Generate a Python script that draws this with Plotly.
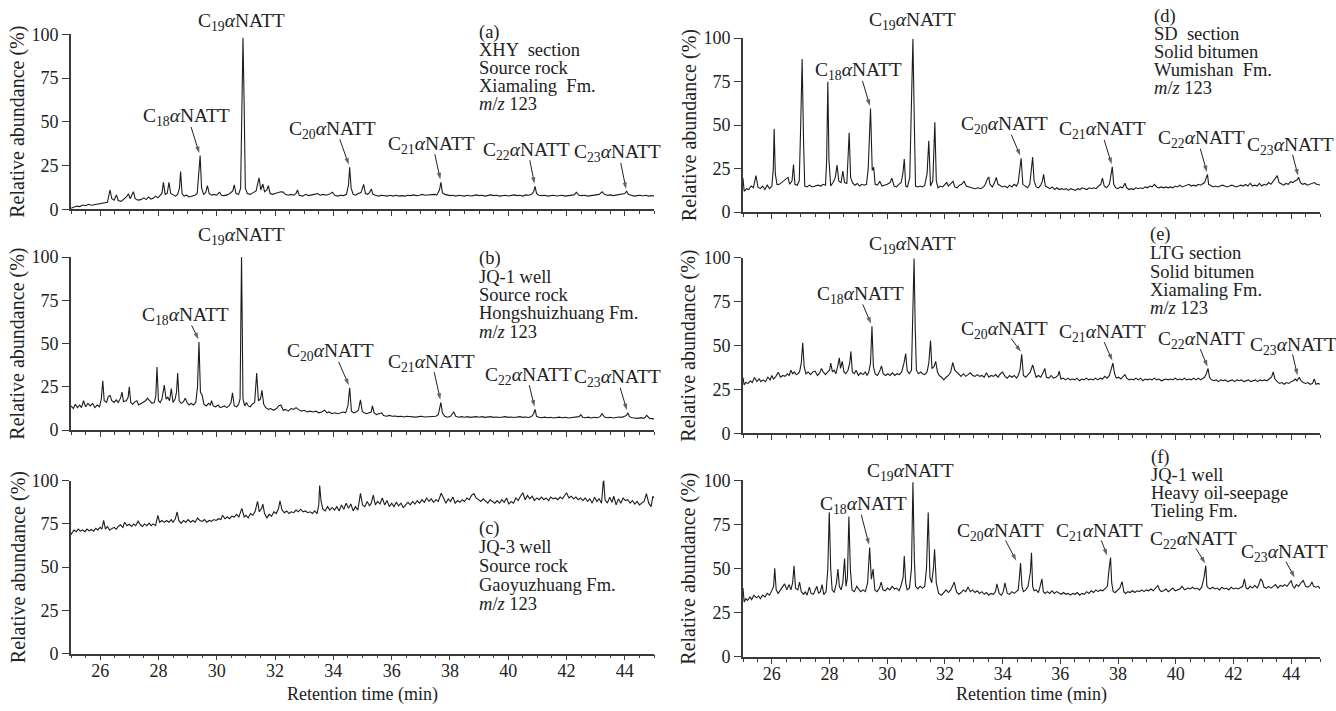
import plotly.graph_objects as go

# ---------------- data (retention time in min, relative abundance in %) ----------------
t_a = [25.00,25.10,25.20,25.30,25.40,25.50,25.60,25.70,25.80,25.95,26.10,26.25,26.30,26.34,26.40,26.48,26.56,26.62,26.72,26.80,
       26.90,26.97,27.03,27.14,27.20,27.30,27.40,27.50,27.58,27.66,27.74,27.82,27.90,27.98,28.05,28.12,28.17,28.23,28.30,28.36,
       28.42,28.50,28.58,28.66,28.72,28.76,28.81,28.88,28.96,29.05,29.15,29.25,29.33,29.38,29.43,29.48,29.55,29.62,29.68,29.74,
       29.82,29.90,30.00,30.05,30.10,30.16,30.25,30.35,30.45,30.55,30.60,30.66,30.75,30.82,30.86,30.90,30.94,30.98,31.05,31.15,
       31.25,31.35,31.45,31.51,31.58,31.64,31.72,31.77,31.83,31.92,32.00,32.10,32.20,32.28,32.35,32.45,32.55,32.65,32.72,32.77,
       32.83,32.95,33.05,33.15,33.25,33.35,33.46,33.55,33.65,33.75,33.85,33.97,34.05,34.15,34.25,34.35,34.45,34.52,34.56,34.61,
       34.68,34.76,34.85,34.95,35.04,35.10,35.18,35.24,35.30,35.36,35.45,35.55,35.65,35.75,35.85,35.95,36.05,36.15,36.25,36.35,
       36.45,36.55,36.65,36.75,36.85,36.95,37.05,37.15,37.25,37.35,37.45,37.55,37.64,37.69,37.74,37.82,37.90,38.00,38.10,38.20,
       38.30,38.40,38.50,38.60,38.70,38.80,38.90,39.00,39.10,39.20,39.30,39.40,39.50,39.60,39.70,39.80,39.90,40.00,40.10,40.20,
       40.30,40.40,40.50,40.60,40.70,40.80,40.87,40.92,40.97,41.05,41.15,41.25,41.35,41.45,41.55,41.65,41.75,41.85,41.95,42.05,
       42.15,42.25,42.34,42.42,42.52,42.62,42.72,42.82,42.92,43.02,43.12,43.22,43.30,43.40,43.50,43.60,43.70,43.80,43.90,44.00,
       44.06,44.12,44.22,44.32,44.42,44.52,44.62,44.72,44.82,44.92,45.00]
y_a = [0.5,1.0,1.8,1.5,2.4,2.0,2.8,2.3,2.6,3.0,3.2,4.0,8.0,11.0,6.0,5.2,8.2,5.0,4.5,5.5,
       7.0,8.8,6.0,10.0,6.0,5.2,5.5,6.5,5.5,7.0,5.8,6.2,7.5,6.5,8.0,9.0,15.4,8.5,9.0,15.4,
       9.0,8.0,7.5,8.5,12.0,21.5,9.0,7.5,8.0,7.0,7.5,8.0,9.0,18.0,30.7,12.0,8.5,9.5,13.5,9.0,
       8.0,8.5,8.0,9.0,9.7,8.0,7.8,8.2,9.0,10.5,13.9,9.0,8.5,12.0,60.0,98.0,60.0,12.0,9.0,8.5,
       9.5,10.5,18.0,11.0,14.4,10.0,11.0,13.5,9.0,8.5,9.0,9.5,10.0,9.8,8.5,8.0,8.5,8.0,9.0,11.0,
       8.0,7.5,8.5,7.8,8.0,8.5,9.0,8.0,8.5,8.0,8.5,9.7,8.0,7.5,8.0,7.8,8.5,14.0,24.0,12.0,
       8.5,8.0,9.0,9.5,14.2,9.0,8.5,9.5,11.6,8.5,8.0,7.5,8.0,7.8,7.5,8.0,7.5,8.0,7.5,7.8,
       7.5,8.0,7.8,8.2,7.8,8.0,8.5,8.0,8.2,8.0,8.5,8.2,11.0,15.4,9.5,8.5,8.0,7.8,8.0,7.5,
       8.0,7.8,7.5,8.0,7.6,7.8,8.2,7.8,8.0,7.5,7.8,8.2,7.8,8.0,7.5,7.8,8.0,7.6,7.8,8.2,
       7.8,8.0,7.5,8.2,8.0,8.5,10.0,13.0,9.0,8.0,7.8,8.0,7.5,7.8,8.0,7.6,7.8,8.0,7.5,7.8,
       8.0,8.2,9.7,8.0,7.8,8.0,7.5,7.8,8.0,8.2,8.5,10.0,8.5,8.0,8.2,7.8,8.0,8.5,8.8,9.0,
       10.3,8.5,8.0,7.5,7.8,8.0,7.6,8.0,7.5,7.8,7.5]

t_b = [25.00,25.08,25.15,25.22,25.30,25.36,25.43,25.50,25.58,25.66,25.74,25.82,25.90,25.98,26.04,26.09,26.14,26.22,26.28,26.34,
       26.40,26.48,26.55,26.62,26.70,26.75,26.80,26.90,26.96,27.00,27.05,27.12,27.20,27.26,27.32,27.40,27.48,27.56,27.62,27.70,
       27.78,27.86,27.91,27.95,28.00,28.06,28.12,28.20,28.26,28.32,28.38,28.44,28.50,28.57,28.62,28.66,28.71,28.78,28.86,28.92,
       28.98,29.05,29.12,29.20,29.28,29.34,29.39,29.44,29.50,29.56,29.64,29.72,29.78,29.82,29.88,29.96,30.05,30.12,30.20,30.27,
       30.34,30.42,30.49,30.54,30.60,30.68,30.75,30.80,30.85,30.90,30.96,31.02,31.08,31.15,31.22,31.30,31.37,31.43,31.50,31.55,
       31.61,31.68,31.77,31.85,31.95,32.05,32.12,32.20,32.28,32.36,32.45,32.55,32.64,32.72,32.80,32.90,33.00,33.10,33.20,33.30,
       33.40,33.50,33.60,33.70,33.78,33.86,33.95,34.05,34.15,34.25,34.34,34.42,34.50,34.56,34.62,34.70,34.78,34.86,34.93,34.99,
       35.06,35.14,35.22,35.30,35.34,35.40,35.48,35.56,35.66,35.72,35.82,35.92,36.02,36.12,36.22,36.32,36.42,36.52,36.62,36.72,
       36.82,36.92,37.02,37.12,37.22,37.32,37.42,37.52,37.60,37.64,37.69,37.74,37.82,37.92,38.02,38.13,38.20,38.30,38.40,38.50,
       38.60,38.70,38.80,38.90,39.00,39.10,39.20,39.30,39.40,39.50,39.60,39.70,39.80,39.90,40.00,40.10,40.20,40.30,40.40,40.50,
       40.60,40.70,40.80,40.87,40.92,40.97,41.05,41.15,41.25,41.35,41.45,41.55,41.65,41.75,41.85,41.95,42.05,42.15,42.25,42.35,
       42.43,42.49,42.55,42.65,42.75,42.85,42.95,43.05,43.15,43.22,43.30,43.40,43.50,43.60,43.70,43.80,43.90,44.00,44.06,44.10,
       44.16,44.25,44.35,44.45,44.55,44.65,44.70,44.75,44.85,44.95,45.00]
y_b = [14.0,12.5,15.0,13.0,14.5,13.0,17.0,13.5,15.5,14.0,15.5,13.0,14.5,13.5,18.0,28.5,17.0,16.0,19.5,20.0,
       17.0,16.0,17.5,16.0,18.5,22.0,16.5,17.0,19.0,25.0,16.0,15.0,16.5,17.0,14.5,15.5,16.0,17.0,18.5,17.0,
       15.5,16.0,20.0,36.5,17.0,16.0,18.0,26.0,18.0,19.0,17.0,24.0,16.0,18.0,22.0,33.0,17.0,15.5,16.5,18.5,
       16.0,14.5,15.5,14.5,16.0,25.0,51.0,22.0,20.0,15.0,14.0,15.5,14.5,17.0,14.0,13.5,14.5,13.0,13.5,14.0,
       13.0,14.0,16.0,21.5,14.0,13.5,15.0,18.0,101.0,18.0,14.0,16.0,14.0,13.5,15.0,16.0,33.0,17.0,18.0,23.0,
       15.0,13.0,12.0,12.5,11.5,12.5,14.0,14.5,11.5,12.0,11.0,12.5,12.0,13.0,12.0,11.0,11.5,10.5,11.0,10.5,
       11.0,10.0,10.5,11.5,10.0,10.5,9.5,10.0,9.5,10.0,10.5,10.0,14.0,24.5,11.0,10.0,10.5,11.5,17.5,11.0,
       10.0,9.5,10.0,10.5,14.0,10.0,9.0,9.5,10.0,8.5,8.0,8.5,8.0,8.2,7.8,8.0,7.6,8.0,7.8,8.0,
       7.5,7.8,8.0,7.6,7.8,8.0,7.8,8.0,9.0,12.0,16.0,10.0,8.0,7.5,8.0,10.5,8.0,7.5,7.8,7.5,
       7.8,7.4,7.6,7.8,7.5,7.8,7.4,7.6,7.8,7.4,7.6,7.3,7.6,7.8,7.4,7.6,7.3,7.6,7.8,7.4,
       7.6,7.3,7.8,9.5,12.0,8.0,7.4,7.2,7.5,7.2,7.4,7.0,7.3,7.5,7.2,7.4,7.0,7.3,7.2,7.5,
       7.8,9.0,7.5,7.2,7.5,7.0,7.4,7.2,7.8,9.5,7.6,7.2,7.4,7.0,7.3,7.6,7.4,8.0,8.5,10.0,
       7.8,7.2,7.0,6.8,7.2,6.8,7.5,8.5,6.8,6.5,6.5]

t_c = [25.00,25.05,25.10,25.18,25.25,25.32,25.40,25.48,25.55,25.62,25.70,25.78,25.85,25.92,26.00,26.06,26.12,26.18,26.25,26.32,
       26.40,26.48,26.55,26.62,26.70,26.78,26.84,26.92,27.00,27.08,27.15,27.22,27.30,27.38,27.45,27.52,27.60,27.68,27.75,27.82,
       27.90,27.98,28.04,28.12,28.20,28.28,28.36,28.44,28.50,28.58,28.64,28.70,28.78,28.86,28.94,29.02,29.10,29.18,29.26,29.34,
       29.42,29.50,29.58,29.66,29.74,29.82,29.90,29.98,30.06,30.14,30.20,30.28,30.36,30.44,30.52,30.60,30.68,30.76,30.86,30.94,
       31.00,31.08,31.16,31.24,31.32,31.40,31.46,31.54,31.58,31.64,31.72,31.80,31.88,31.96,32.04,32.12,32.17,32.24,32.32,32.40,
       32.48,32.56,32.64,32.72,32.80,32.88,32.96,33.04,33.12,33.20,33.28,33.36,33.44,33.50,33.53,33.58,33.64,33.72,33.80,33.88,
       33.96,34.04,34.12,34.20,34.28,34.36,34.44,34.52,34.60,34.68,34.76,34.84,34.93,35.00,35.08,35.16,35.24,35.30,35.37,35.44,
       35.52,35.60,35.68,35.76,35.84,35.92,36.00,36.08,36.16,36.24,36.32,36.40,36.48,36.56,36.64,36.72,36.80,36.88,36.96,37.04,
       37.12,37.20,37.28,37.36,37.44,37.52,37.60,37.70,37.78,37.86,37.94,38.02,38.10,38.18,38.26,38.34,38.42,38.50,38.58,38.66,
       38.74,38.82,38.90,38.98,39.06,39.14,39.22,39.30,39.38,39.46,39.54,39.62,39.70,39.78,39.86,39.94,40.02,40.10,40.18,40.26,
       40.34,40.42,40.50,40.58,40.66,40.74,40.82,40.90,40.98,41.06,41.14,41.22,41.30,41.38,41.46,41.54,41.62,41.70,41.78,41.86,
       41.94,42.00,42.08,42.16,42.24,42.32,42.40,42.48,42.56,42.64,42.72,42.80,42.88,42.96,43.04,43.12,43.20,43.27,43.32,43.40,
       43.48,43.56,43.62,43.70,43.78,43.86,43.94,44.02,44.10,44.18,44.26,44.34,44.42,44.50,44.58,44.66,44.74,44.82,44.90,44.96,
       45.00]
y_c = [68.8,70.5,71.5,70.5,72.0,70.8,71.5,70.5,72.0,71.0,71.8,70.8,72.5,71.5,73.0,72.0,77.0,72.0,73.5,71.5,
       72.5,73.0,72.0,73.5,74.5,73.0,76.0,74.0,74.8,73.5,75.0,74.0,76.6,74.5,73.5,75.0,74.0,75.5,74.0,75.0,
       74.0,80.0,76.0,77.0,75.9,77.0,76.0,77.5,76.0,78.0,81.9,77.0,75.3,77.0,76.0,77.5,76.0,77.0,76.0,78.5,
       77.0,76.5,77.5,76.0,77.0,76.5,77.5,77.0,78.0,77.5,80.0,78.0,79.0,78.0,79.5,79.0,80.5,79.0,84.0,79.0,
       80.0,78.5,81.0,80.0,82.5,88.0,82.0,84.0,86.5,81.0,78.5,80.5,79.5,82.0,81.0,84.0,88.4,83.0,81.5,82.5,
       81.0,82.0,81.5,83.0,82.0,83.5,82.0,82.5,81.5,82.0,81.0,82.5,81.0,86.0,97.2,88.0,83.5,82.5,85.0,83.0,
       84.5,83.0,85.0,82.5,86.0,83.5,87.0,84.0,86.5,82.5,85.0,83.0,92.7,86.0,85.0,88.0,85.5,87.0,91.6,86.0,
       88.0,86.5,90.0,86.0,88.5,85.0,87.0,85.0,87.5,85.5,87.0,84.5,86.0,87.5,86.0,88.0,86.5,88.5,87.0,89.0,
       87.5,90.0,88.0,89.5,87.5,89.0,88.0,92.7,90.0,87.0,89.5,88.0,90.5,87.0,88.5,87.5,89.0,88.0,90.0,89.0,
       91.5,92.5,90.0,89.0,88.0,89.5,88.0,87.0,89.0,88.0,87.0,88.5,87.0,89.0,87.5,90.0,86.5,88.0,87.0,90.0,
       88.5,91.0,93.0,89.0,91.5,89.5,91.0,88.5,90.0,89.0,90.5,89.0,90.0,88.5,90.5,89.5,90.0,89.0,90.5,89.5,
       91.5,93.0,90.0,91.0,89.5,90.5,89.0,90.0,88.5,90.0,88.0,89.5,87.0,90.5,88.0,89.5,87.0,101.5,89.0,87.0,
       90.5,87.5,91.0,86.0,89.5,87.0,90.0,88.5,89.0,87.0,88.5,86.5,88.0,86.0,87.0,88.0,92.5,87.0,85.0,91.0,
       90.0]

t_d = [25.00,25.04,25.12,25.20,25.28,25.36,25.45,25.52,25.60,25.68,25.76,25.84,25.92,26.00,26.05,26.08,26.12,26.18,26.26,26.34,
       26.42,26.50,26.56,26.62,26.70,26.75,26.80,26.88,26.95,27.00,27.05,27.10,27.14,27.22,27.30,27.40,27.50,27.60,27.70,27.78,
       27.86,27.90,27.94,27.98,28.04,28.12,28.20,28.26,28.32,28.40,28.46,28.52,28.60,28.64,28.68,28.73,28.80,28.88,28.96,29.04,
       29.12,29.20,29.28,29.34,29.42,29.48,29.53,29.58,29.66,29.74,29.82,29.90,30.00,30.10,30.16,30.24,30.32,30.40,30.48,30.54,
       30.59,30.64,30.70,30.78,30.84,30.89,30.94,30.98,31.06,31.14,31.22,31.30,31.38,31.44,31.50,31.58,31.65,31.70,31.76,31.84,
       31.92,32.00,32.06,32.12,32.20,32.28,32.34,32.42,32.50,32.58,32.66,32.74,32.84,32.94,33.04,33.14,33.24,33.34,33.40,33.48,
       33.52,33.56,33.64,33.72,33.78,33.84,33.92,34.00,34.08,34.16,34.24,34.32,34.40,34.48,34.54,34.60,34.64,34.70,34.78,34.86,
       34.94,35.00,35.04,35.09,35.16,35.24,35.32,35.38,35.42,35.48,35.56,35.64,35.72,35.80,35.88,35.96,36.04,36.12,36.20,36.28,
       36.36,36.44,36.52,36.60,36.68,36.76,36.84,36.92,37.00,37.08,37.16,37.24,37.32,37.40,37.46,37.52,37.60,37.70,37.76,37.80,
       37.85,37.92,38.00,38.08,38.16,38.24,38.30,38.38,38.46,38.54,38.62,38.70,38.78,38.86,38.94,39.02,39.10,39.18,39.26,39.34,
       39.42,39.50,39.58,39.66,39.74,39.82,39.90,39.98,40.06,40.14,40.22,40.30,40.38,40.46,40.54,40.62,40.70,40.78,40.86,40.94,
       41.00,41.06,41.10,41.14,41.22,41.30,41.38,41.46,41.54,41.62,41.70,41.78,41.86,41.94,42.02,42.10,42.18,42.26,42.34,42.42,
       42.50,42.58,42.66,42.74,42.82,42.90,42.98,43.06,43.14,43.22,43.30,43.38,43.44,43.52,43.58,43.66,43.74,43.82,43.90,43.98,
       44.06,44.14,44.20,44.26,44.32,44.40,44.48,44.56,44.64,44.72,44.80,44.88,44.96,45.00]
y_d = [19.5,12.0,13.5,13.0,15.0,14.0,21.0,14.3,13.5,15.0,13.0,15.5,13.5,15.0,25.0,48.0,22.0,15.8,16.0,17.0,
       18.0,19.0,20.0,16.0,18.0,27.4,16.0,15.5,18.0,50.0,88.0,40.0,15.0,14.5,15.5,14.5,15.0,15.5,15.0,16.0,
       15.5,30.0,75.0,30.0,15.0,17.0,20.0,27.0,18.0,17.0,23.6,17.0,16.5,30.0,45.6,20.0,16.8,15.5,16.5,15.0,
       16.0,15.5,16.0,25.0,59.6,24.0,25.8,16.0,15.5,17.7,15.0,15.5,16.0,17.0,19.5,15.0,14.5,16.0,17.0,22.0,
       30.5,15.0,14.5,20.0,60.0,99.6,50.0,15.0,14.5,15.0,14.5,15.5,22.0,41.0,15.0,18.0,51.6,18.0,14.0,15.0,
       14.5,16.0,17.0,15.0,16.5,17.7,14.5,14.0,15.5,16.0,17.7,15.0,14.5,14.0,13.5,14.0,13.5,14.5,16.0,19.5,
       20.0,16.0,14.5,17.0,20.0,16.0,15.0,14.5,15.0,14.0,15.5,14.5,16.0,15.0,17.0,25.0,31.0,16.0,15.0,14.0,
       16.0,24.0,31.6,18.0,14.5,14.0,15.5,18.0,21.8,15.0,14.0,13.5,14.5,13.0,14.0,13.0,13.5,13.0,13.5,12.5,
       13.5,13.0,12.5,13.5,13.0,14.0,13.5,13.0,14.0,13.5,14.0,13.5,15.0,16.0,19.5,15.0,14.0,16.0,22.0,26.0,
       16.0,14.0,13.5,14.5,14.0,16.6,14.0,13.0,13.5,13.0,14.0,13.5,14.0,13.5,14.5,14.0,15.0,14.5,16.0,14.5,
       14.0,14.5,14.0,14.5,14.0,14.5,14.0,15.0,14.5,15.5,14.5,15.0,15.5,16.0,15.0,15.5,15.0,16.0,15.5,16.5,
       17.0,20.0,21.6,16.0,15.0,14.5,15.0,14.5,15.0,15.5,15.0,14.5,15.0,15.5,15.0,14.5,15.0,15.5,15.0,16.0,
       15.0,16.6,15.0,15.5,15.0,16.5,15.0,16.0,15.5,17.0,16.0,18.0,19.5,21.0,17.0,16.0,15.5,16.5,16.0,17.5,
       17.0,18.0,18.5,20.0,17.0,16.0,16.5,15.5,16.0,16.5,17.0,16.0,15.5,15.6]

t_e = [25.00,25.04,25.10,25.18,25.26,25.32,25.40,25.48,25.56,25.62,25.70,25.78,25.86,25.94,26.00,26.06,26.14,26.22,26.30,26.38,
       26.46,26.54,26.60,26.66,26.72,26.78,26.84,26.90,26.96,27.02,27.07,27.12,27.18,27.26,27.34,27.42,27.50,27.58,27.66,27.72,
       27.78,27.86,27.94,28.00,28.04,28.10,28.16,28.22,28.28,28.34,28.38,28.44,28.50,28.56,28.64,28.70,28.74,28.79,28.86,28.92,
       29.00,29.08,29.16,29.24,29.30,29.36,29.42,29.47,29.52,29.58,29.66,29.74,29.80,29.86,29.94,30.02,30.10,30.18,30.26,30.34,
       30.42,30.50,30.58,30.64,30.69,30.76,30.84,30.89,30.93,30.97,31.01,31.08,31.16,31.22,31.30,31.38,31.44,31.50,31.55,31.62,
       31.68,31.74,31.80,31.88,31.96,32.04,32.12,32.20,32.27,32.34,32.40,32.48,32.56,32.64,32.72,32.80,32.88,32.96,33.04,33.12,
       33.20,33.28,33.36,33.44,33.52,33.60,33.68,33.76,33.84,33.92,34.00,34.08,34.16,34.24,34.32,34.40,34.48,34.54,34.60,34.66,
       34.72,34.80,34.88,34.96,35.04,35.10,35.16,35.24,35.32,35.40,35.46,35.52,35.60,35.68,35.76,35.84,35.92,35.96,36.02,36.10,
       36.18,36.26,36.34,36.42,36.50,36.58,36.66,36.74,36.82,36.90,36.98,37.06,37.14,37.22,37.30,37.38,37.46,37.54,37.62,37.70,
       37.76,37.82,37.88,37.94,38.02,38.10,38.18,38.24,38.30,38.38,38.46,38.54,38.62,38.70,38.78,38.86,38.94,39.02,39.10,39.18,
       39.26,39.34,39.42,39.50,39.58,39.66,39.74,39.82,39.90,39.98,40.06,40.14,40.22,40.30,40.38,40.46,40.54,40.62,40.70,40.78,
       40.86,40.94,41.00,41.06,41.12,41.17,41.24,41.32,41.40,41.48,41.56,41.64,41.72,41.80,41.88,41.96,42.04,42.12,42.20,42.28,
       42.36,42.44,42.52,42.60,42.68,42.76,42.84,42.92,43.00,43.08,43.16,43.24,43.32,43.38,43.44,43.52,43.60,43.68,43.76,43.84,
       43.92,44.00,44.08,44.14,44.20,44.28,44.34,44.42,44.50,44.58,44.66,44.74,44.80,44.86,44.94,45.00]
y_e = [31.8,27.7,29.0,28.5,30.0,29.0,31.8,29.5,31.0,29.5,30.5,29.5,32.0,30.5,33.0,31.0,32.5,34.8,32.0,33.0,
       32.5,34.0,33.0,36.0,34.0,35.0,33.5,34.0,35.0,40.0,51.6,38.0,34.0,35.0,33.5,35.0,35.5,33.0,34.5,37.0,
       35.0,33.5,35.0,36.0,40.0,35.0,36.0,34.0,38.0,43.0,37.0,41.0,35.0,34.0,36.0,40.0,46.7,35.0,34.0,36.0,
       33.0,34.5,33.5,35.0,33.0,35.0,40.0,61.0,38.0,34.0,33.0,35.5,38.5,34.0,33.0,34.0,33.0,34.5,33.0,34.0,
       33.5,35.0,40.0,45.4,36.0,34.0,36.0,70.0,99.6,60.0,36.0,34.0,35.0,34.0,33.5,35.0,40.0,52.9,37.0,38.0,
       41.0,35.0,33.0,32.0,30.5,32.0,33.0,35.0,40.4,36.0,35.0,33.5,32.5,34.0,32.5,33.5,34.5,33.0,32.5,33.5,
       32.5,33.0,32.0,34.5,32.0,33.0,32.5,33.5,32.0,34.0,35.0,32.5,31.5,33.0,32.0,33.0,31.5,33.0,36.0,45.0,
       33.0,32.0,33.5,35.0,39.0,36.0,32.0,33.0,32.0,34.5,37.0,32.0,31.5,33.0,31.5,32.0,33.0,35.5,31.0,31.5,
       30.5,31.5,30.5,31.0,30.5,31.5,30.0,31.0,30.5,31.5,30.5,31.0,30.5,31.5,30.5,31.5,31.0,32.5,31.5,33.0,
       36.0,40.0,34.0,31.5,32.0,31.0,32.5,33.5,31.5,30.5,31.0,30.5,31.5,30.5,31.5,30.0,31.0,30.5,31.0,30.5,
       31.5,30.5,31.0,30.0,30.5,31.0,30.5,31.0,30.5,31.5,30.5,31.0,30.5,31.5,30.5,31.0,30.5,31.5,30.5,31.5,
       30.5,31.5,32.0,34.0,37.0,32.0,30.5,30.0,30.5,29.5,30.5,30.0,30.5,29.5,30.0,30.5,29.5,30.5,30.0,30.5,
       29.5,30.0,30.5,29.5,30.0,30.5,29.5,30.5,30.0,30.5,30.0,31.0,32.0,35.0,31.0,29.5,28.5,29.0,28.0,29.0,
       28.5,29.5,30.0,31.0,30.0,32.0,30.0,29.0,28.5,29.0,28.0,28.5,31.0,28.0,28.5,28.0]

t_f = [25.00,25.04,25.10,25.16,25.24,25.30,25.38,25.46,25.54,25.60,25.68,25.76,25.84,25.92,26.00,26.06,26.10,26.15,26.22,26.30,
       26.38,26.44,26.52,26.60,26.66,26.72,26.77,26.82,26.90,26.96,27.02,27.10,27.16,27.22,27.30,27.36,27.44,27.50,27.56,27.62,
       27.68,27.74,27.80,27.88,27.94,27.99,28.04,28.09,28.16,28.24,28.29,28.34,28.40,28.46,28.52,28.57,28.62,28.67,28.72,28.78,
       28.86,28.94,29.00,29.08,29.16,29.24,29.32,29.39,29.45,29.51,29.57,29.65,29.73,29.79,29.85,29.93,30.01,30.09,30.17,30.25,
       30.33,30.41,30.47,30.55,30.59,30.64,30.69,30.77,30.84,30.89,30.94,30.98,31.06,31.14,31.22,31.30,31.36,31.42,31.48,31.54,
       31.60,31.64,31.70,31.78,31.88,31.96,32.04,32.12,32.20,32.26,32.32,32.40,32.48,32.56,32.64,32.72,32.80,32.88,32.96,33.04,
       33.12,33.20,33.28,33.36,33.44,33.52,33.60,33.68,33.75,33.80,33.88,33.96,34.02,34.08,34.16,34.24,34.32,34.40,34.48,34.54,
       34.58,34.62,34.67,34.72,34.80,34.88,34.96,35.00,35.04,35.09,35.16,35.24,35.30,35.36,35.41,35.47,35.55,35.63,35.71,35.79,
       35.87,35.95,36.03,36.11,36.19,36.27,36.35,36.43,36.51,36.59,36.67,36.75,36.83,36.91,36.99,37.07,37.15,37.23,37.31,37.39,
       37.47,37.55,37.63,37.69,37.74,37.78,37.83,37.90,37.98,38.06,38.14,38.20,38.26,38.34,38.42,38.50,38.58,38.66,38.74,38.82,
       38.90,38.98,39.06,39.14,39.22,39.30,39.38,39.44,39.50,39.58,39.66,39.74,39.82,39.90,39.98,40.06,40.14,40.22,40.30,40.36,
       40.42,40.50,40.58,40.66,40.74,40.82,40.90,40.98,41.04,41.08,41.13,41.20,41.28,41.36,41.44,41.52,41.60,41.68,41.76,41.84,
       41.92,42.00,42.08,42.16,42.24,42.32,42.38,42.44,42.50,42.58,42.66,42.74,42.82,42.88,42.94,43.00,43.06,43.14,43.22,43.30,
       43.38,43.46,43.54,43.62,43.70,43.78,43.86,43.94,44.00,44.06,44.12,44.18,44.26,44.34,44.42,44.50,44.58,44.66,44.72,44.78,
       44.86,44.94,45.00]
y_f = [39.0,31.2,33.0,32.0,34.0,32.5,35.0,33.5,34.5,33.0,35.0,34.0,36.0,35.0,37.7,40.0,50.2,38.0,36.0,38.0,
       40.0,41.4,38.0,41.0,38.0,42.0,51.7,39.0,38.0,42.4,37.0,35.5,37.0,35.0,39.6,36.0,35.5,38.0,40.0,36.0,
       37.0,41.0,35.3,37.0,50.0,82.0,50.0,38.0,36.5,42.0,49.8,40.0,38.0,42.0,55.8,40.0,45.0,79.5,50.0,38.0,
       37.0,40.0,38.5,37.0,38.0,37.0,42.0,62.0,44.0,49.8,38.0,37.0,39.0,42.4,38.0,37.5,39.0,38.0,40.0,38.5,
       39.0,37.5,40.0,45.0,57.2,42.0,38.0,39.0,50.0,99.0,55.0,40.0,38.5,40.0,39.0,40.0,50.0,81.8,45.0,42.0,
       50.0,61.0,42.0,36.0,35.0,36.5,38.0,36.5,38.0,40.0,42.4,37.0,35.5,36.5,38.0,37.0,39.6,37.0,38.0,36.5,
       37.5,36.0,37.0,35.5,36.5,35.0,36.0,35.5,37.0,41.4,36.0,35.0,37.0,42.0,36.0,35.5,37.0,36.0,37.0,38.0,
       45.0,53.2,40.0,37.0,38.0,40.0,48.0,59.0,40.0,37.5,38.0,36.5,40.0,44.2,37.0,36.0,37.0,36.0,37.5,36.0,
       37.0,36.0,35.5,36.5,35.5,36.0,35.0,36.0,35.5,36.5,35.0,36.0,35.5,37.0,36.0,37.5,36.5,38.0,37.0,38.0,
       37.5,38.7,40.0,50.0,56.3,42.0,37.0,36.5,38.0,39.0,42.7,37.0,36.0,37.0,36.5,37.5,36.5,37.5,37.0,38.0,
       37.0,38.0,37.5,38.5,37.5,39.0,40.5,38.0,37.0,37.5,38.5,37.0,38.0,39.0,37.5,38.0,38.5,40.0,38.0,38.5,
       39.0,38.5,39.5,38.5,39.0,38.0,39.5,45.0,51.7,40.0,39.0,38.5,39.5,38.5,39.0,38.0,39.5,38.5,39.0,38.0,
       39.5,38.5,39.0,38.5,39.5,40.0,44.2,39.0,38.5,40.0,39.0,40.5,39.0,41.0,44.2,43.0,39.5,39.0,40.0,39.0,
       40.0,41.0,39.0,40.5,40.0,41.0,40.0,42.0,43.3,40.0,39.0,41.0,40.0,42.0,43.3,40.0,39.5,40.5,42.5,40.0,
       39.5,40.0,38.7]

y_ticks = [0, 25, 50, 75, 100]
x_ticklabels = ["26", "28", "30", "32", "34", "36", "38", "40", "42", "44"]

# annotation content per panel
info = {
    "a": ["(a)", "XHY  section", "Source rock", "Xiamaling  Fm.", "<i>m</i>/<i>z</i> 123"],
    "b": ["(b)", "JQ-1 well", "Source rock", "Hongshuizhuang Fm.", "<i>m</i>/<i>z</i> 123"],
    "c": ["(c)", "JQ-3 well", "Source rock", "Gaoyuzhuang Fm.", "<i>m</i>/<i>z</i> 123"],
    "d": ["(d)", "SD  section", "Solid bitumen", "Wumishan  Fm.", "<i>m</i>/<i>z</i> 123"],
    "e": ["(e)", "LTG section", "Solid bitumen", "Xiamaling Fm.", "<i>m</i>/<i>z</i> 123"],
    "f": ["(f)", "JQ-1 well", "Heavy oil-seepage", "Tieling Fm."],
}
# (first line y, line step, x) in data units
info_pos = {"a": (101, 10.2, 38.96), "b": (99, 10.5, 38.96), "c": (72.5, 10.9, 38.96),
            "d": (112.5, 10.3, 39.22), "e": (113, 10.4, 39.08), "f": (113, 10.2, 39.10)}

carbons = ["18", "19", "20", "21", "22", "23"]
# label position (x, y), arrow tail (x, y), arrow head (x, y); None = no arrow
labels = {
    "a": [(28.95, 52.5, 29.12, 47, 29.40, 32), (30.85, 107, None, None, None, None),
          (33.97, 45.5, 34.22, 40, 34.53, 25.5), (37.35, 37, 37.48, 31.5, 37.67, 17),
          (40.63, 33.5, 40.74, 28, 40.90, 14.5), (43.74, 32, 43.86, 26.5, 44.04, 11.5)],
    "b": [(28.94, 66, 29.14, 60.5, 29.37, 52.5), (30.85, 112, None, None, None, None),
          (33.90, 45, 34.18, 39.5, 34.53, 26), (37.38, 39, 37.46, 33.5, 37.67, 17.5),
          (40.68, 31.5, 40.72, 26, 40.90, 13.5), (43.74, 30, 43.84, 24.5, 44.07, 11.5)],
    "c": [],
    "d": [(29.00, 81, 29.14, 75.5, 29.40, 61), (30.89, 110, None, None, None, None),
          (34.05, 50, 34.30, 44.5, 34.61, 32.5), (37.46, 47, 37.52, 41.5, 37.78, 27.5),
          (40.88, 42, 40.85, 36.5, 41.08, 23), (43.99, 38, 44.05, 33, 44.24, 21)],
    "e": [(29.07, 79, 29.15, 73.5, 29.44, 62.5), (30.86, 107.5, None, None, None, None),
          (34.05, 59, 34.30, 54, 34.63, 46.5), (37.46, 57, 37.52, 52, 37.80, 41.5),
          (40.90, 53, 40.85, 48, 41.10, 38), (44.07, 50, 44.05, 45, 44.22, 33)],
    "f": [(29.18, 86, 29.10, 80.5, 29.37, 63.5), (30.79, 104.6, None, None, None, None),
          (33.92, 71, 34.10, 66, 34.47, 54.5), (37.35, 71, 37.42, 66, 37.62, 57.5),
          (40.63, 66.5, 40.70, 61.5, 41.02, 53), (43.76, 59, 43.82, 54, 44.12, 45)],
}

# ---------------- layout ----------------
W, H = 1336, 711
def px_x(p): return p / W
def px_y(p): return 1 - p / H
XR = (25, 45)
YR = (0, 100)
def fx(t): return (t - XR[0]) / (XR[1] - XR[0])
def fy(v): return (v - YR[0]) / (YR[1] - YR[0])

panels = [
    ("a", t_a, y_a, (71, 654), (25, 205), False),
    ("b", t_b, y_b, (71, 654), (254.3, 432.3), False),
    ("c", t_c, y_c, (71, 654), (484.3, 662.3), True),
    ("d", t_d, y_d, (743, 1320), (29, 208), False),
    ("e", t_e, y_e, (743, 1320), (255, 435.7), False),
    ("f", t_f, y_f, (743, 1320), (484, 665.7), True),
]

SERIF = "Liberation Serif"
INK = "#222222"
AX = "#3a3a3a"

fig = go.Figure()
annotations = []
layout = dict(width=W, height=H, margin=dict(l=0, r=0, t=0, b=0),
              paper_bgcolor="white", plot_bgcolor="white", showlegend=False)

for i, (key, tt, yy, xd, yd, bottom) in enumerate(panels, start=1):
    xa = "x" if i == 1 else f"x{i}"
    ya = "y" if i == 1 else f"y{i}"
    xdom, ydom = xa + " domain", ya + " domain"
    fig.add_trace(go.Scatter(x=tt, y=yy, mode="lines", xaxis=xa, yaxis=ya,
                             line=dict(color="#1c1c1c", width=1.1), hoverinfo="skip"))
    layout[f"xaxis{i}"] = dict(
        domain=[px_x(xd[0]), px_x(xd[1])], anchor=ya, range=list(XR),
        showline=True, linecolor=AX, linewidth=1.6, showgrid=False, zeroline=False,
        ticks="outside", ticklen=5, tickwidth=1.2, tickcolor=AX,
        tickmode="array", tickvals=[int(s) for s in x_ticklabels], ticktext=x_ticklabels,
        showticklabels=bottom, ticklabelstandoff=-5,
        tickfont=dict(family=SERIF, size=18, color=INK),
        minor=dict(dtick=0.5, tick0=25, ticks="outside", ticklen=3, tickwidth=1, tickcolor=AX),
    )
    layout[f"yaxis{i}"] = dict(
        domain=[px_y(yd[1]), px_y(yd[0])], anchor=xa, range=list(YR),
        showline=True, linecolor=AX, linewidth=1.6, showgrid=False, zeroline=False,
        ticks="outside", ticklen=7, tickwidth=1.2, tickcolor=AX,
        tickmode="array", tickvals=y_ticks, ticktext=[str(v) for v in y_ticks],
        tickfont=dict(family=SERIF, size=18, color=INK),
    )
    # y-axis title
    annotations.append(dict(xref="paper", yref="paper",
                            x=px_x(18 if xd[0] < 300 else 689), y=(px_y(yd[0]) + px_y(yd[1])) / 2,
                            text="Relative abundance (%)", textangle=-90, showarrow=False,
                            font=dict(family=SERIF, size=20, color=INK),
                            xanchor="center", yanchor="middle"))
    # info text block
    y0, step, xi = info_pos[key]
    for j, line in enumerate(info[key]):
        annotations.append(dict(xref=xdom, yref=ydom, x=fx(xi), y=fy(y0 - j * step), text=line,
                                showarrow=False, xanchor="left", yanchor="middle", borderpad=0,
                                font=dict(family=SERIF, size=18.5, color=INK)))
    # compound labels + arrows (arrows as line traces with an arrow marker at the head)
    for c, (lx, ly, tx, ty, hx, hy) in zip(carbons, labels[key]):
        annotations.append(dict(xref=xdom, yref=ydom, x=fx(lx), y=fy(ly),
                                text=f"C<sub>{c}</sub><i>α</i>NATT", showarrow=False,
                                xanchor="center", yanchor="middle",
                                font=dict(family=SERIF, size=19.5, color=INK)))
        if tx is not None:
            fig.add_trace(go.Scatter(x=[tx, hx], y=[ty, hy], mode="lines+markers",
                                     xaxis=xa, yaxis=ya, hoverinfo="skip",
                                     line=dict(color=INK, width=1),
                                     marker=dict(symbol="arrow", angleref="previous",
                                                 size=[0, 7], color=INK,
                                                 line=dict(width=0))))
    if bottom:
        annotations.append(dict(xref="paper", yref="paper",
                                x=(px_x(xd[0]) + px_x(xd[1])) / 2, y=px_y(704),
                                text="Retention time (min)", showarrow=False,
                                font=dict(family=SERIF, size=18, color=INK),
                                xanchor="center", yanchor="middle", borderpad=0))

layout["annotations"] = annotations
fig.update_layout(**layout)
fig.write_html("out.html")
